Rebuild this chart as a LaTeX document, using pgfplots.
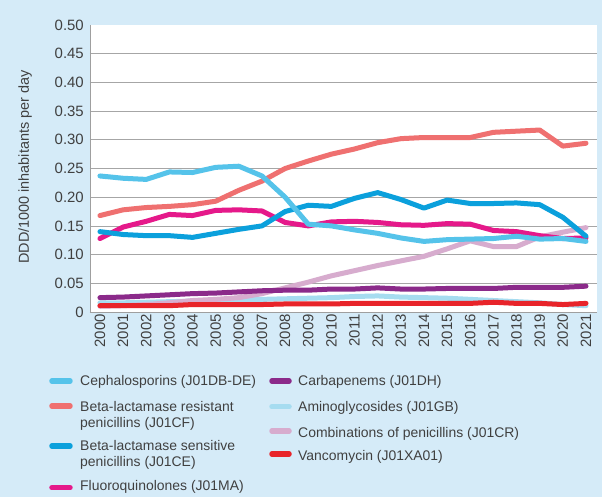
\documentclass[border=0pt]{standalone}
\usepackage{pgfplots}
\pgfplotsset{compat=1.18}
\usepackage{fontspec}
\setmainfont{Liberation Sans}
\definecolor{bg}{HTML}{D5EBF8}
\definecolor{txt}{HTML}{404040}
\definecolor{ceph}{HTML}{55C3EA}
\definecolor{blr}{HTML}{EF7070}
\definecolor{bls}{HTML}{0BA0DC}
\definecolor{fluo}{HTML}{E5198A}
\definecolor{carb}{HTML}{8B2A8A}
\definecolor{amino}{HTML}{A6DCF0}
\definecolor{combo}{HTML}{D7ACCE}
\definecolor{vanc}{HTML}{E8242A}
\begin{document}
\begin{tikzpicture}
\fill[bg] (-90bp,-185bp) rectangle (512bp,312bp);
\begin{axis}[
  at={(0,0)}, anchor=south west, scale only axis,
  width=507bp, height=287bp,
  xmin=1999.57, xmax=2021.475, ymin=0, ymax=0.5,
  axis background/.style={fill=white},
  axis x line*=bottom, axis y line*=left,
  axis line style={draw=gray!75, line width=0.8bp},
  major tick length=0pt,
  ytick={0,0.05,0.10,0.15,0.20,0.25,0.30,0.35,0.40,0.45},
  yticklabels={0,0.05,0.10,0.15,0.20,0.25,0.30,0.35,0.40,0.45},
  extra y ticks={0.5}, extra y tick labels={0.50},
  extra y tick style={grid=none},
  ymajorgrids, grid style={draw=gray!70, line width=0.8bp},
  xtick={2000,...,2021},
  xticklabels={2000,2001,2002,2003,2004,2005,2006,2007,2008,2009,2010,2011,2012,2013,2014,2015,2016,2017,2018,2019,2020,2021},
  tick label style={font=\fontsize{15}{18}\selectfont, text=txt},
  xticklabel style={rotate=90, anchor=east, inner sep=2bp},
  yticklabel style={inner sep=2bp, xshift=-4bp},
  ylabel={DDD/1000 inhabitants per day},
  ylabel style={font=\fontsize{14.5}{18}\selectfont, text=txt, at={(axis description cs:-0.128,0.505)}, anchor=center},
  every axis plot/.append style={line width=5bp, line join=round, line cap=round, mark=none},
]
% Aminoglycosides
\addplot[amino] coordinates {(2000,0.016)(2001,0.016)(2002,0.017)(2003,0.018)(2004,0.019)(2005,0.020)(2006,0.021)(2007,0.022)(2008,0.023)(2009,0.024)(2010,0.025)(2011,0.027)(2012,0.028)(2013,0.026)(2014,0.025)(2015,0.024)(2016,0.022)(2017,0.020)(2018,0.018)(2019,0.016)(2020,0.013)(2021,0.011)};
% Combinations of penicillins
\addplot[combo] coordinates {(2000,0.010)(2001,0.011)(2002,0.013)(2003,0.016)(2004,0.020)(2005,0.022)(2006,0.025)(2007,0.032)(2008,0.042)(2009,0.052)(2010,0.063)(2011,0.072)(2012,0.081)(2013,0.089)(2014,0.097)(2015,0.110)(2016,0.124)(2017,0.114)(2018,0.114)(2019,0.131)(2020,0.139)(2021,0.147)};
% Carbapenems
\addplot[carb] coordinates {(2000,0.025)(2001,0.026)(2002,0.028)(2003,0.030)(2004,0.032)(2005,0.033)(2006,0.035)(2007,0.037)(2008,0.038)(2009,0.038)(2010,0.040)(2011,0.040)(2012,0.042)(2013,0.040)(2014,0.040)(2015,0.041)(2016,0.041)(2017,0.041)(2018,0.043)(2019,0.043)(2020,0.043)(2021,0.045)};
% Vancomycin
\addplot[vanc] coordinates {(2000,0.011)(2001,0.011)(2002,0.011)(2003,0.011)(2004,0.013)(2005,0.013)(2006,0.013)(2007,0.013)(2008,0.014)(2009,0.014)(2010,0.014)(2011,0.015)(2012,0.015)(2013,0.015)(2014,0.015)(2015,0.015)(2016,0.015)(2017,0.017)(2018,0.015)(2019,0.015)(2020,0.013)(2021,0.015)};
% Beta-lactamase resistant
\addplot[blr] coordinates {(2000,0.168)(2001,0.178)(2002,0.182)(2003,0.184)(2004,0.187)(2005,0.193)(2006,0.212)(2007,0.228)(2008,0.250)(2009,0.263)(2010,0.275)(2011,0.284)(2012,0.295)(2013,0.302)(2014,0.304)(2015,0.304)(2016,0.304)(2017,0.313)(2018,0.315)(2019,0.317)(2020,0.289)(2021,0.294)};
% Fluoroquinolones
\addplot[fluo] coordinates {(2000,0.128)(2001,0.148)(2002,0.158)(2003,0.170)(2004,0.168)(2005,0.177)(2006,0.178)(2007,0.176)(2008,0.156)(2009,0.150)(2010,0.157)(2011,0.158)(2012,0.156)(2013,0.152)(2014,0.151)(2015,0.154)(2016,0.153)(2017,0.142)(2018,0.140)(2019,0.133)(2020,0.128)(2021,0.129)};
% Beta-lactamase sensitive
\addplot[bls] coordinates {(2000,0.140)(2001,0.135)(2002,0.133)(2003,0.133)(2004,0.130)(2005,0.137)(2006,0.144)(2007,0.150)(2008,0.175)(2009,0.186)(2010,0.184)(2011,0.198)(2012,0.208)(2013,0.196)(2014,0.181)(2015,0.195)(2016,0.189)(2017,0.189)(2018,0.190)(2019,0.187)(2020,0.165)(2021,0.132)};
% Cephalosporins
\addplot[ceph] coordinates {(2000,0.237)(2001,0.233)(2002,0.231)(2003,0.244)(2004,0.243)(2005,0.252)(2006,0.254)(2007,0.237)(2008,0.200)(2009,0.153)(2010,0.150)(2011,0.143)(2012,0.137)(2013,0.129)(2014,0.123)(2015,0.126)(2016,0.127)(2017,0.128)(2018,0.132)(2019,0.127)(2020,0.128)(2021,0.123)};
\end{axis}
% Legend
\begin{scope}[every node/.style={font=\fontsize{14}{16}\selectfont, text=txt, anchor=base west, inner sep=0pt},
  leg/.style={line width=5.5bp, line cap=round}]
\draw[leg, ceph] (-38bp,-69bp) -- (-20bp,-69bp);
\node at (-10bp,-73.7bp) {Cephalosporins (J01DB-DE)};
\draw[leg, blr] (-38bp,-94bp) -- (-20bp,-94bp);
\node at (-10bp,-99.7bp) {Beta-lactamase resistant};
\node at (-10bp,-115.7bp) {penicillins (J01CF)};
\draw[leg, bls] (-38bp,-134bp) -- (-20bp,-134bp);
\node at (-10bp,-138.7bp) {Beta-lactamase sensitive};
\node at (-10bp,-154.7bp) {penicillins (J01CE)};
\draw[leg, fluo] (-38bp,-175.7bp) -- (-20bp,-175.7bp);
\node at (-10bp,-178bp) {Fluoroquinolones (J01MA)};
\draw[leg, carb] (182bp,-69bp) -- (199bp,-69bp);
\node at (208bp,-73.7bp) {Carbapenems (J01DH)};
\draw[leg, amino] (182bp,-94.7bp) -- (199bp,-94.7bp);
\node at (208bp,-99.7bp) {Aminoglycosides (J01GB)};
\draw[leg, combo] (182bp,-119bp) -- (199bp,-119bp);
\node at (208bp,-125.3bp) {Combinations of penicillins (J01CR)};
\draw[leg, vanc] (182bp,-142bp) -- (199bp,-142bp);
\node at (208bp,-148bp) {Vancomycin (J01XA01)};
\end{scope}
\end{tikzpicture}
\end{document}
